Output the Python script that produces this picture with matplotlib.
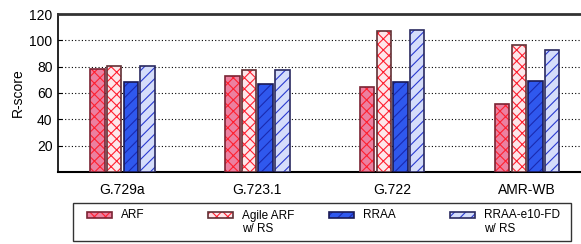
import numpy as np
import matplotlib
matplotlib.use("Agg")
import matplotlib.pyplot as plt
from matplotlib.patches import Rectangle

plt.rcParams['font.family'] = ['Liberation Sans', 'DejaVu Sans']
plt.rcParams['hatch.linewidth'] = 0.8

codecs = ["G.729a", "G.723.1", "G.722", "AMR-WB"]
series = ["ARF", "Agile ARF\nw/ RS", "RRAA", "RRAA-e10-FD\nw/ RS"]
arf = [78, 72.7, 64.8, 51.4]
agile_arf = [80.4, 77.5, 107.3, 96.4]
rraa = [68, 66.6, 68, 69.3]
rraa_e10 = [80.4, 77.5, 107.8, 93]
yticks = [20, 40, 60, 80, 100, 120]

values = [arf, agile_arf, rraa, rraa_e10]
fills = ["#ec80a0", "#fde7ea", "#2f58ee", "#d5ddfa"]
hatch_cols = ["#ff2030", "#ff2030", "#1a2ab0", "#2a3ad0"]
edges = ["#7a2434", "#603035", "#1a1a55", "#2a2a60"]
hatches = ["xxx", "xxx", "///", "///"]

W, H = 581, 244
fig = plt.figure(figsize=(W/100, H/100), dpi=100)
ax = fig.add_axes([58/W, 72/H, 1 - 58/W, 158/H])

def layered(draw, i):
    # fill, hatch and outline drawn as separate layers so the hatch gets its own colour
    draw(facecolor=fills[i], edgecolor="none", linewidth=0)
    draw(facecolor="none", edgecolor=hatch_cols[i], hatch=hatches[i], linewidth=0)
    draw(facecolor="none", edgecolor=edges[i], linewidth=1.2)

x = np.arange(len(codecs))
w = 0.107
step = 0.1235
for i, vals in enumerate(values):
    pos = x + (i - 1.5) * step
    layered(lambda **kw: ax.bar(pos, vals, w, zorder=3, **kw), i)

ax.set_xlim(-0.478, 3.40)
ax.set_ylim(0, 120)
ax.set_yticks(yticks)
ax.set_xticks(x)
ax.set_xticklabels(codecs, fontsize=10)
ax.tick_params(axis='y', direction='in', length=3, labelsize=10, pad=4)
ax.tick_params(axis='x', length=0, pad=8)
ax.set_ylabel("R-score", fontsize=10, labelpad=3)
ax.yaxis.grid(True, linestyle=(0, (1, 2)), color="black", linewidth=0.8, zorder=0)
ax.spines['right'].set_visible(False)
ax.spines['top'].set_linewidth(2)
ax.spines['top'].set_color("#333333")
ax.spines['bottom'].set_linewidth(1.5)
ax.spines['left'].set_linewidth(1.2)

# legend box drawn by hand (handles sit next to the first text line)
def fx(px):
    return px / W

def fy(py):
    return 1 - py / H

fig.patches.append(Rectangle((fx(73), fy(240.7)), fx(570.7) - fx(73), fy(203) - fy(240.7),
                             transform=fig.transFigure, facecolor="white",
                             edgecolor="#333333", linewidth=1.0))
col_x = [87.3, 208, 329, 450]
for i, label in enumerate(series):
    def draw(**kw):
        fig.patches.append(Rectangle((fx(col_x[i]), fy(218)), fx(25), 6 / H,
                                     transform=fig.transFigure, **kw))
    layered(draw, i)
    fig.text(fx(col_x[i] + 34), fy(209.5), label, fontsize=8.5, va='top',
             ha='left', linespacing=1.15)

fig.savefig("out.png", dpi=100)
